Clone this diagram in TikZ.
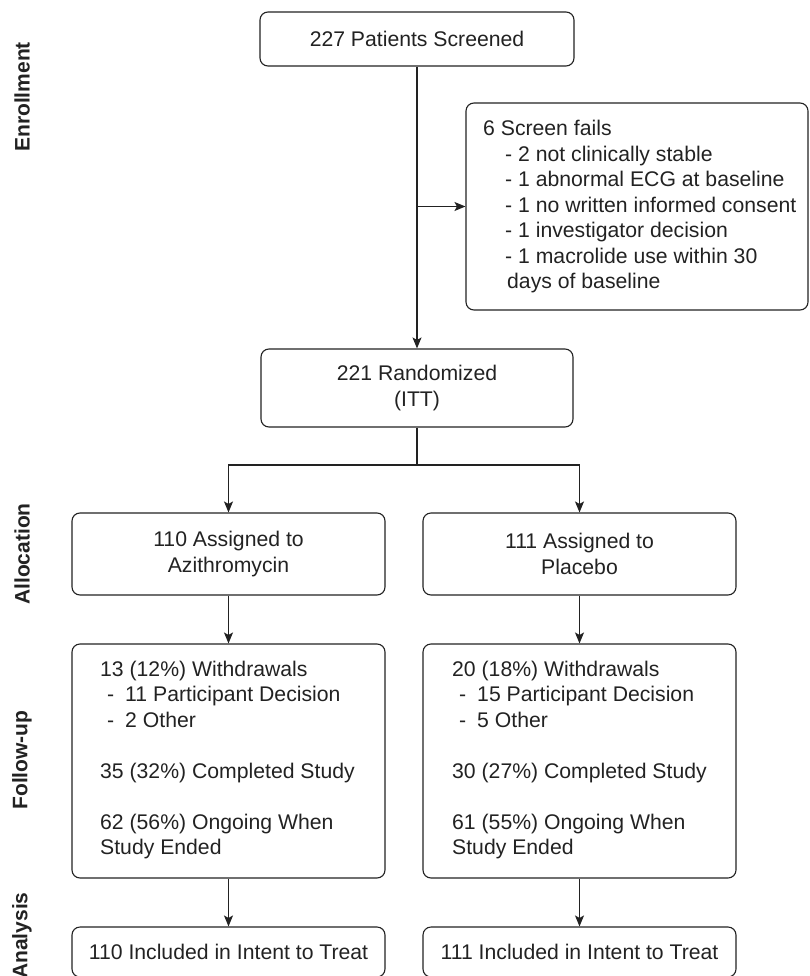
\documentclass[tikz,border=0pt]{standalone}
\usepackage{fontspec}
\setmainfont{Liberation Sans}
\usetikzlibrary{arrows.meta}
\definecolor{ink}{HTML}{222222}
\begin{document}
\begin{tikzpicture}[x=1pt,y=-1pt,
  box/.style={draw=ink, line width=1.1pt, rounded corners=8pt, text=ink,
    inner sep=0pt, align=center, font=\fontsize{21.2}{25.5}\selectfont},
  txt/.style={anchor=west, inner sep=0pt, align=left, text=ink, font=\fontsize{21.2}{25.5}\selectfont},
  arr/.style={draw=ink, line width=1.1pt, -{Stealth[length=11pt,width=9pt,inset=2.5pt]}},
  ln/.style={draw=ink, line width=1.1pt},
  sect/.style={rotate=90, text=ink, font=\fontsize{21}{25}\selectfont\bfseries, inner sep=0pt}]
\useasboundingbox (0,0) rectangle (809,976);
% section labels
\node[sect] (lenr) at (22,97) {Enrollment};
\node[sect] (lall) at (22,554) {Allocation};
\node[sect] (lfol) at (22,760) {Follow-up};
\node[sect] (lana) at (22,935.5) {Analysis};
% boxes
\node[box, minimum width=314pt, minimum height=54pt] (top) at (417,39) {227 Patients Screened};
\node[box, minimum width=342pt, minimum height=207pt] (fails) at (637,206.5) {};
\node[txt] (failstxt) at (483,207)
  {6 Screen fails\\
   \hspace*{22pt}- 2 not clinically stable\\
   \hspace*{22pt}- 1 abnormal ECG at baseline\\
   \hspace*{22pt}- 1 no written informed consent\\
   \hspace*{22pt}- 1 investigator decision\\
   \hspace*{22pt}- 1 macrolide use within 30\\
   \hspace*{24pt}days of baseline};
\node[box, minimum width=312pt, minimum height=78pt] (rand) at (417,388) {221 Randomized\\(ITT)};
\node[box, minimum width=313pt, minimum height=82pt] (allocL) at (228.5,554) {110 Assigned to\\Azithromycin};
\node[box, minimum width=313pt, minimum height=82pt] (allocR) at (579.5,554) {111 Assigned to\\Placebo};
\node[box, minimum width=313pt, minimum height=234pt] (folL) at (228.5,761) {};
\node[txt] (folLtxt) at (100,760)
  {13 (12\%) Withdrawals\\
   \hspace*{7pt}-\hspace*{11pt}11 Participant Decision\\
   \hspace*{7pt}-\hspace*{11pt}2 Other\\[25.5pt]
   35 (32\%) Completed Study\\[25.5pt]
   62 (56\%) Ongoing When\\
   Study Ended};
\node[box, minimum width=313pt, minimum height=234pt] (folR) at (579.5,761) {};
\node[txt] (folRtxt) at (452,760)
  {20 (18\%) Withdrawals\\
   \hspace*{7pt}-\hspace*{11pt}15 Participant Decision\\
   \hspace*{7pt}-\hspace*{11pt}5 Other\\[25.5pt]
   30 (27\%) Completed Study\\[25.5pt]
   61 (55\%) Ongoing When\\
   Study Ended};
\node[box, minimum width=313pt, minimum height=50pt] (anaL) at (228.5,952) {110 Included in Intent to Treat};
\node[box, minimum width=313pt, minimum height=50pt] (anaR) at (579.5,952) {111 Included in Intent to Treat};
% connectors
\draw[arr] (top.south) -- (rand.north);
\draw[arr] (top.south |- fails.west) -- (fails.west);
\coordinate (split) at (417,465);
\draw[ln] (rand.south) -- (split);
\draw[arr] (split) -| (allocL.north);
\draw[arr] (split) -| (allocR.north);
\draw[arr] (allocL.south) -- (folL.north);
\draw[arr] (allocR.south) -- (folR.north);
\draw[arr] (folL.south) -- (anaL.north);
\draw[arr] (folR.south) -- (anaR.north);
\end{tikzpicture}
\end{document}
